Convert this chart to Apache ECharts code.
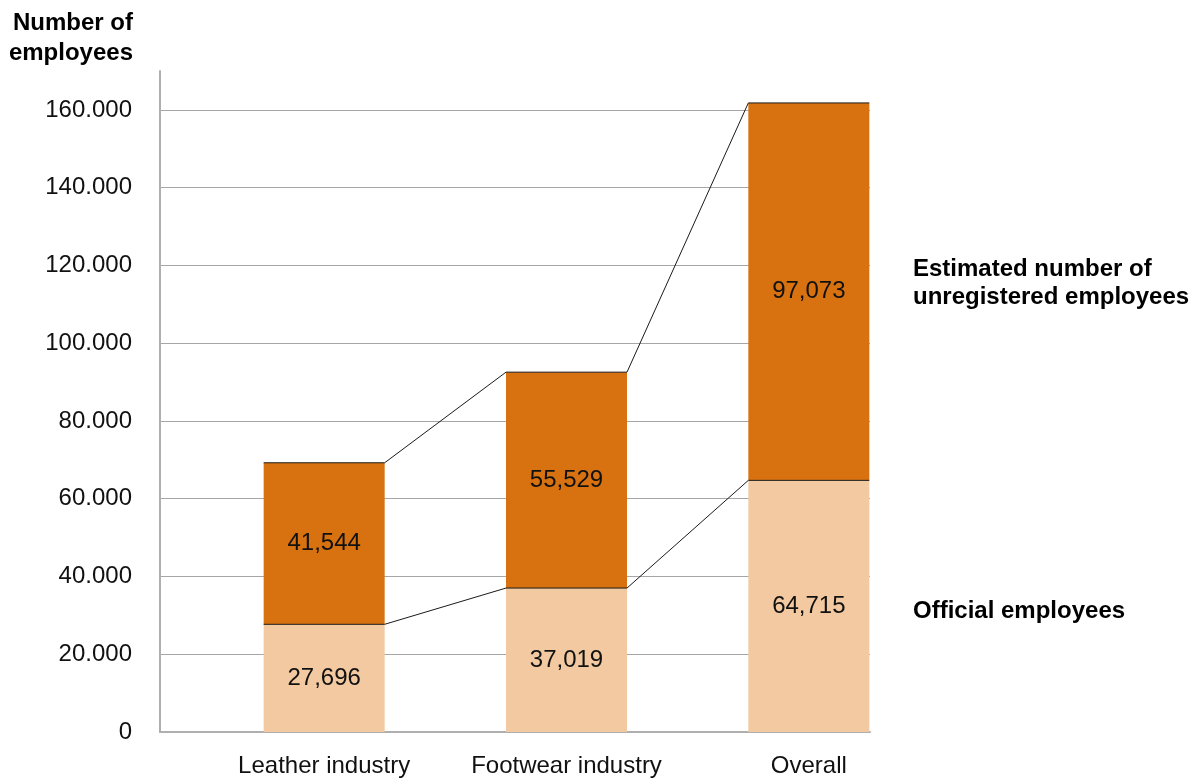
<!DOCTYPE html>
<html>
<head>
<meta charset="utf-8">
<script src="https://cdn.jsdelivr.net/npm/echarts@6/dist/echarts.min.js"></script>
<style>
  html, body { margin: 0; padding: 0; background: #fff; }
  #chart { width: 1196px; height: 781px; }
</style>
</head>
<body>
<div id="chart"></div>
<script>
// Employees in the leather and footwear sector
const categories = ['Leather industry', 'Footwear industry', 'Overall'];
const official = [27696, 37019, 64715];
const unregistered = [41544, 55529, 97073];
const yTicks = { min: 0, max: 170000, interval: 20000 };

const BAR_W = 121;
const FONT = '"Liberation Sans", Arial, sans-serif';
const DARK = '#D87210';
const LIGHT = '#F2C9A0';
const totals = official.map((v, i) => v + unregistered[i]);

const fmtAxis = v => String(v).replace(/\B(?=(\d{3})+(?!\d))/g, '.');
const fmtLabel = v => String(v).replace(/\B(?=(\d{3})+(?!\d))/g, ',');

const chart = echarts.init(document.getElementById('chart'), null, { renderer: 'canvas' });

// Connector lines: across each bar's top edge and on to the next bar
function renderConnectors(params, api) {
  const i = params.dataIndex;
  const children = [];
  [official, totals].forEach(level => {
    const c = api.coord([i, level[i]]);
    const pts = [[c[0] - BAR_W / 2, c[1]], [c[0] + BAR_W / 2, c[1]]];
    if (i + 1 < level.length) {
      const n = api.coord([i + 1, level[i + 1]]);
      pts.push([n[0] - BAR_W / 2, n[1]]);
    }
    children.push({
      type: 'polyline',
      shape: { points: pts },
      style: { stroke: '#1a1a1a', lineWidth: 1, fill: null }
    });
  });
  return { type: 'group', children };
}

const gridTop = 71, gridBottom = 49;

chart.setOption({
  animation: false,
  backgroundColor: '#fff',
  textStyle: { fontFamily: FONT },
  grid: [
    { left: 160, width: 710, top: gridTop, bottom: gridBottom },
    { left: 203, width: 727, top: gridTop, bottom: gridBottom }
  ],
  xAxis: [
    {
      gridIndex: 0, type: 'value', min: 0, max: 1,
      axisLine: { show: true, lineStyle: { color: '#AFAFAF', width: 2 } },
      axisTick: { show: false }, axisLabel: { show: false }, splitLine: { show: false }
    },
    {
      gridIndex: 1, type: 'category', data: categories,
      axisLine: { show: false }, axisTick: { show: false },
      axisLabel: { color: '#111', fontSize: 24, margin: 22, fontFamily: FONT, interval: 0 }
    }
  ],
  yAxis: [
    {
      gridIndex: 0, type: 'value', ...yTicks,
      axisLine: { show: true, lineStyle: { color: '#AFAFAF', width: 2 } },
      axisTick: { show: false },
      axisLabel: { color: '#111', fontSize: 24, margin: 28, fontFamily: FONT,
                   showMaxLabel: false, formatter: fmtAxis, padding: [5, 0, 0, 0] },
      splitLine: { show: true, showMinLine: false, showMaxLine: false,
                   lineStyle: { color: '#A6A6A6', width: 1 } }
    },
    { gridIndex: 1, type: 'value', ...yTicks, show: false }
  ],
  series: [
    {
      name: 'Official employees', type: 'bar', stack: 'emp',
      xAxisIndex: 1, yAxisIndex: 1, barWidth: BAR_W,
      itemStyle: { color: LIGHT },
      label: { show: true, position: 'inside', color: '#111', fontSize: 24,
               fontFamily: FONT, formatter: p => fmtLabel(p.value) },
      data: official
    },
    {
      name: 'Estimated number of unregistered employees', type: 'bar', stack: 'emp',
      xAxisIndex: 1, yAxisIndex: 1, barWidth: BAR_W,
      itemStyle: { color: DARK },
      label: { show: true, position: 'inside', color: '#111', fontSize: 24,
               fontFamily: FONT, formatter: p => fmtLabel(p.value) },
      data: unregistered
    },
    {
      type: 'custom', xAxisIndex: 1, yAxisIndex: 1, z: 5,
      renderItem: renderConnectors,
      data: categories.map((c, i) => i),
      silent: true
    }
  ],
  graphic: [
    {
      type: 'text', x: 133, y: 8,
      style: { text: 'Number of\nemployees', fill: '#000', fontSize: 24, fontWeight: 'bold',
               fontFamily: FONT, textAlign: 'right', lineHeight: 30 }
    },
    {
      type: 'text', x: 913, y: 255,
      style: { text: 'Estimated number of\nunregistered employees', fill: '#000', fontSize: 24,
               fontWeight: 'bold', fontFamily: FONT, textAlign: 'left', lineHeight: 28 }
    },
    {
      type: 'text', x: 913, y: 597,
      style: { text: 'Official employees', fill: '#000', fontSize: 24,
               fontWeight: 'bold', fontFamily: FONT, textAlign: 'left', lineHeight: 28 }
    }
  ]
});
</script>
</body>
</html>
